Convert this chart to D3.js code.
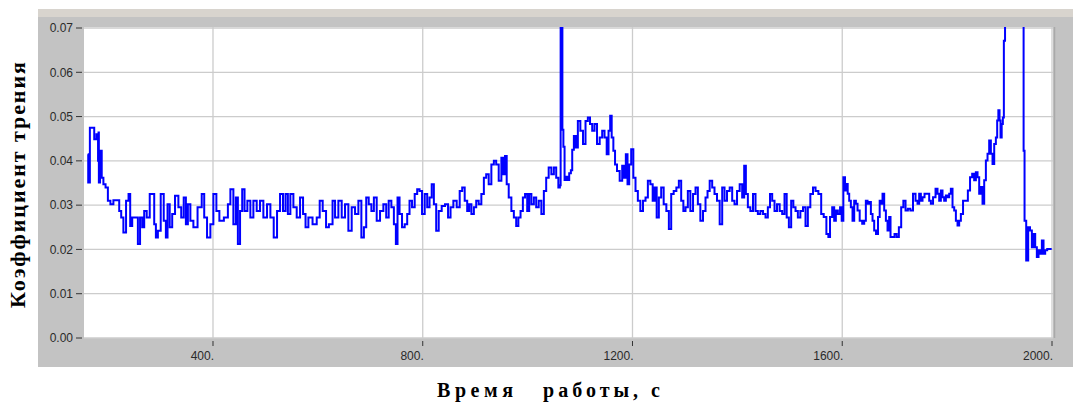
<!DOCTYPE html>
<html>
<head>
<meta charset="utf-8">
<script src="https://cdn.jsdelivr.net/npm/d3@7"></script>
<style>
  body { margin: 0; background: #fff; }
</style>
</head>
<body>
<div id="chart-area"></div>
<script>
// время работы, с
const timeSec = [
  161.1,163,167.4,171.9,175.1,180.2,181.4,182,182.7,186.5,
  189.1,192.9,197.3,201.8,206.9,213.2,219.6,222.7,227.2,231,
  237.4,240.5,243.7,248.2,254.5,259,262.8,267.2,270.4,276.8,
  281.9,286.3,289.5,292.7,297.1,303.5,308.6,311.7,314.9,320,
  324.4,330.8,337.2,341.6,346.7,349.9,354.3,359.4,365.8,375.3,
  381.7,384.8,392.5,397.5,403.9,409,415.3,426.2,430.6,435.7,
  442,445.2,449.7,453.5,457.9,462.4,468.7,473.8,480.2,486.5,
  492.9,499.2,506.9,512,519.6,524.7,531,536.1,540.6,545,
  550.1,556.5,562.8,569.2,574.3,578.7,585.1,594.6,601,606,
  612.4,618.8,623.2,
  626.4,629.6,635.9,642.3,648.6,655,661.3,667.7,674.1,680.4,
  685.5,690,694.4,699.5,704.6,709,715.4,721.7,728.1,732.5,
  737.6,742.7,747.2,750.3,753.5,758,763,768.1,772.6,777,
  782.1,787.2,791.6,796.1,801.2,806.3,810.7,815.2,819,823.4,
  827.9,833,839.3,845.7,850.8,855.2,861.6,867.9,873,877.5,
  882.5,887,890.2,895.3,899.7,904.2,909.2,914.3,918.8,923.2,
  928.3,933.4,937.8,942.3,947.4,952.5,955,958.8,961.4,966.5,
  971.5,976,980.4,984.3,988.7,993.2,997,1001.4,1004.6,1009.7,
  1014.1,1018.6,1023.7,1028.7,1033.2,1037.6,1042.7,1047.8,1052.3,1056.7,
  1060.5,1062.5,
  1063.4,1065.7,1066.9,1069.5,1071.4,1074.6,1077.7,1080.9,1084.1,1086,
  1090.4,1093.6,1098,1103.1,1108.2,1112.6,1117.1,1120.9,1125.4,1129.8,
  1134.9,1140,1144.4,1148.9,1152.7,1155.9,1159,1161.6,1165.4,1168,
  1173,1178.1,1182.6,1185.7,1188.9,1192.1,1195.3,1199.7,1203.5,1208,
  1212.4,1217.5,1222.6,1227.1,1231.5,1236.6,1240.4,1244.2,1248,1252.5,
  1256.9,1262,1267.1,1271.6,1276,1281.1,1286.2,1290.6,1295.1,1298.9,
  1303.3,1307.8,1312.9,1318,1322.4,1326.9,1331.9,1337,1341.5,1344.7,
  1349.7,1354.2,1358.6,1363.7,1368.8,1373.3,1377.7,1382.8,1387.9,1392.3,
  1396.8,1401.9,1406.9,1411.4,1414.6,1417.8,1422.2,1427.3,1432.4,1436.8,
  1441.3,1446.4,1451.5,1455.9,1460.3,1464.2,1468.6,1473.1,1478.1,1483.2,
  1487.7,1492.1,1496,1500.4,1504.8,1508.7,1513.1,1517.6,1522.6,1527.7,
  1532.2,1536.6,1541.7,1546.8,1551.3,1557.6,
  1562.1,1567.2,1572.3,1574.8,1578.6,1583.1,1586.2,1589.4,1593.9,1597.7,
  1600.2,1604,1606.6,1609.1,1611.7,1614.8,1618,1621.2,1624.4,1627.6,
  1630.7,1635.8,1640.3,1643.4,1646.6,1649.8,1653,1656.2,1659.3,1662.5,
  1666.3,1670.1,1672.7,1675.2,1678.4,1681.6,1684.8,1687.9,1691.1,1693,
  1697.5,1701.9,1705.7,1710.2,1714.6,1718.5,1722.9,1727.4,1732.4,1737.5,
  1742,1745.1,1748.3,1751.5,1754.7,1759.1,1764.2,1767.4,1770.6,1775.7,
  1780.1,1783.3,1786.5,1789.6,1792.8,1796,1799.2,1802.4,1805.5,1808.7,
  1811.9,1815.1,1818.3,1821.4,1824.6,1827.8,1832.9,1837.3,1841.8,1845.6,
  1850,1853.2,1856.4,1859.6,1862.7,1865.9,1869.1,1872.3,1875.5,1878.6,
  1881.8,1885,1888.2,1891.4,1894.5,1896.4,1899,1900.9,1902.8,1905.3,
  1907.2,1909.2,1911.7,1945,1946.7,1948.6,1953,1956.2,1960,1963.2,
  1966.4,1969.5,1972.7,1975.9,1979.1,1982.3,1985.4,1988.6,1993.1,1999.4
]

// коэффициент трения
const friction = [
  .0415,.0351,.0475,.0475,.0449,.0460,.0400,.0464,.0351,.0423,
  .0362,.0347,.0340,.0310,.0302,.0311,.0311,.0287,.0272,.0238,
  .0310,.0325,.0253,.0272,.0272,.0212,.0272,.0250,.0287,.0272,
  .0325,.0325,.0257,.0227,.0242,.0325,.0265,.0227,.0302,.0250,
  .0280,.0321,.0295,.0272,.0317,.0257,.0302,.0265,.0250,.0295,
  .0325,.0272,.0227,.0257,.0325,.0287,.0265,.0272,.0302,.0336,
  .0257,.0317,.0212,.0287,.0336,.0287,.0310,.0272,.0310,.0287,
  .0310,.0272,.0302,.0272,.0227,.0287,.0325,.0287,.0325,.0280,
  .0325,.0295,.0272,.0317,.0280,.0250,.0272,.0257,.0272,.0310,
  .0287,.0250,.0257,
  .0257,.0310,.0272,.0310,.0272,.0302,.0242,.0295,.0280,.0310,
  .0227,.0250,.0317,.0302,.0287,.0317,.0265,.0287,.0302,.0272,
  .0310,.0295,.0257,.0212,.0317,.0280,.0250,.0257,.0280,.0310,
  .0295,.0325,.0336,.0332,.0280,.0325,.0295,.0317,.0347,.0302,
  .0242,.0287,.0298,.0302,.0272,.0295,.0310,.0295,.0332,.0340,
  .0310,.0287,.0302,.0280,.0295,.0310,.0302,.0325,.0362,.0370,
  .0347,.0392,.0400,.0392,.0355,.0407,.0370,.0411,.0347,.0317,
  .0287,.0272,.0253,.0272,.0287,.0317,.0325,.0287,.0325,.0302,
  .0317,.0295,.0310,.0280,.0332,.0362,.0385,.0370,.0385,.0362,
  .0340,.0345,
  .085,.085,.0470,.0432,.0357,.0364,.0357,.0372,.0379,.0425,
  .0456,.0430,.0490,.0468,.0438,.0490,.0498,.0483,.0468,.0483,
  .0438,.0453,.0468,.0453,.0415,.0468,.0502,.0453,.0423,.0392,
  .0377,.0355,.0389,.0362,.0415,.0347,.0392,.0426,.0362,.0332,
  .0310,.0287,.0310,.0317,.0355,.0347,.0310,.0340,.0272,.0317,
  .0340,.0302,.0287,.0246,.0325,.0332,.0340,.0355,.0310,.0287,
  .0295,.0332,.0287,.0325,.0340,.0302,.0265,.0287,.0317,.0332,
  .0355,.0340,.0325,.0310,.0257,.0340,.0310,.0332,.0340,.0310,
  .0302,.0332,.0347,.0317,.0389,.0325,.0295,.0287,.0325,.0287,
  .0280,.0287,.0280,.0272,.0295,.0325,.0310,.0287,.0302,.0287,
  .0280,.0325,.0272,.0250,.0310,.0295,.0287,.0272,.0287,.0295,
  .0253,.0295,.0325,.0340,.0332,.0325,
  .0280,.0273,.0235,.0228,.0273,.0295,.0265,.0288,.0280,.0295,
  .0265,.0363,.0333,.0348,.0326,.0310,.0295,.0265,.0310,.0303,
  .0288,.0265,.0258,.0265,.0310,.0303,.0307,.0280,.0265,.0243,
  .0235,.0273,.0310,.0303,.0326,.0288,.0265,.0243,.0273,.0228,
  .0228,.0235,.0228,.0250,.0295,.0310,.0288,.0292,.0288,.0326,
  .0310,.0303,.0326,.0310,.0318,.0326,.0326,.0310,.0303,.0318,
  .0337,.0326,.0310,.0333,.0318,.0310,.0322,.0318,.0326,.0337,
  .0295,.0288,.0265,.0254,.0265,.0280,.0310,.0310,.0333,.0363,
  .0371,.0356,.0374,.0363,.0326,.0341,.0303,.0356,.0401,.0416,
  .0446,.0416,.0393,.0438,.0453,.0491,.0514,.0491,.0453,.0483,
  .0498,.0671,.085,.085,.0423,.0265,.0175,.0250,.0243,.0205,
  .0235,.0205,.0183,.0198,.0190,.0220,.0190,.0198,.0201,.0201
]

const xTicks = [400, 800, 1200, 1600, 2000]
const yTicks = [0, 0.01, 0.02, 0.03, 0.04, 0.05, 0.06, 0.07]

const WIDTH = 1073
const HEIGHT = 403
const PLOT = { LEFT: 84, RIGHT: 1053, TOP: 27, BOTTOM: 338 }

const svg = d3.select("#chart-area").append("svg")
  .attr("width", WIDTH)
  .attr("height", HEIGHT)

// panel
svg.append("rect")
  .attr("x", 38).attr("y", 9)
  .attr("width", WIDTH - 38).attr("height", 10)
  .attr("fill", "#d8d4ce")
svg.append("rect")
  .attr("x", 38).attr("y", 17)
  .attr("width", WIDTH - 38).attr("height", 350)
  .attr("fill", "#c3c3c3")
svg.append("line")
  .attr("x1", PLOT.RIGHT + 1.5).attr("x2", PLOT.RIGHT + 1.5)
  .attr("y1", PLOT.TOP).attr("y2", PLOT.BOTTOM)
  .attr("stroke", "#a9a9a9").attr("stroke-width", 1.5)
svg.append("rect")
  .attr("x", PLOT.LEFT).attr("y", PLOT.TOP)
  .attr("width", PLOT.RIGHT - PLOT.LEFT).attr("height", PLOT.BOTTOM - PLOT.TOP)
  .attr("fill", "#ffffff")

const x = d3.scaleLinear()
  .domain([154, 2000])
  .range([PLOT.LEFT, 1052])

const y = d3.scaleLinear()
  .domain([0, 0.07])
  .range([PLOT.BOTTOM, 28])

// grid
svg.append("g").selectAll("line")
  .data(yTicks)
  .enter().append("line")
    .attr("x1", PLOT.LEFT).attr("x2", PLOT.RIGHT)
    .attr("y1", d => y(d)).attr("y2", d => y(d))
    .attr("stroke", "#cccccc").attr("stroke-width", 1.3)

svg.append("g").selectAll("line")
  .data(xTicks)
  .enter().append("line")
    .attr("x1", d => x(d)).attr("x2", d => x(d))
    .attr("y1", PLOT.TOP).attr("y2", PLOT.BOTTOM)
    .attr("stroke", "#cccccc").attr("stroke-width", 1.3)

// Y axis
const yAxis = svg.append("g")
yAxis.selectAll("line")
  .data(yTicks)
  .enter().append("line")
    .attr("x1", 76).attr("x2", 82)
    .attr("y1", d => y(d)).attr("y2", d => y(d))
    .attr("stroke", "#333")
yAxis.selectAll("text")
  .data(yTicks)
  .enter().append("text")
    .attr("x", 73)
    .attr("y", d => y(d))
    .attr("dy", "0.36em")
    .attr("text-anchor", "end")
    .attr("font-family", "Liberation Sans, Arial, sans-serif")
    .attr("font-size", "12px")
    .attr("fill", "#2a2a2a")
    .text(d => d.toFixed(2))

// X axis
const xAxis = svg.append("g")
xAxis.selectAll("line")
  .data(xTicks)
  .enter().append("line")
    .attr("x1", d => x(d)).attr("x2", d => x(d))
    .attr("y1", 341).attr("y2", 346)
    .attr("stroke", "#333")
xAxis.selectAll("text")
  .data(xTicks)
  .enter().append("text")
    .attr("x", d => x(d) + 1)
    .attr("y", 360)
    .attr("text-anchor", "end")
    .attr("font-family", "Liberation Sans, Arial, sans-serif")
    .attr("font-size", "12px")
    .attr("fill", "#2a2a2a")
    .text(d => d + ".")

// line
svg.append("clipPath")
  .attr("id", "plot-clip")
  .append("rect")
    .attr("x", PLOT.LEFT).attr("y", PLOT.TOP)
    .attr("width", PLOT.RIGHT - PLOT.LEFT).attr("height", PLOT.BOTTOM - PLOT.TOP)

const points = d3.zip(timeSec, friction)
const line = d3.line()
  .curve(d3.curveStep)
  .x(d => x(d[0]))
  .y(d => y(d[1]))

svg.append("path")
  .datum(points)
  .attr("clip-path", "url(#plot-clip)")
  .attr("d", line)
  .attr("fill", "none")
  .attr("stroke", "#0000ff")
  .attr("stroke-width", 2)

// Y label
svg.append("text")
  .attr("transform", "rotate(-90)")
  .attr("x", -185)
  .attr("y", 25)
  .attr("text-anchor", "middle")
  .attr("font-family", "Liberation Serif, Times New Roman, serif")
  .attr("font-weight", "bold")
  .attr("font-size", "22px")
  .attr("fill", "#000")
  .attr("textLength", 246)
  .attr("lengthAdjust", "spacing")
  .text("Коэффициент трения")

// X label
const xLabel = svg.append("text")
  .attr("y", 397)
  .attr("font-family", "Liberation Serif, Times New Roman, serif")
  .attr("font-weight", "bold")
  .attr("font-size", "20px")
  .attr("fill", "#000")
xLabel.append("tspan")
  .attr("x", 437)
  .attr("textLength", 76)
  .attr("lengthAdjust", "spacing")
  .text("Время")
xLabel.append("tspan")
  .attr("x", 543)
  .attr("textLength", 117)
  .attr("lengthAdjust", "spacing")
  .text("работы, с")
</script>
</body>
</html>
